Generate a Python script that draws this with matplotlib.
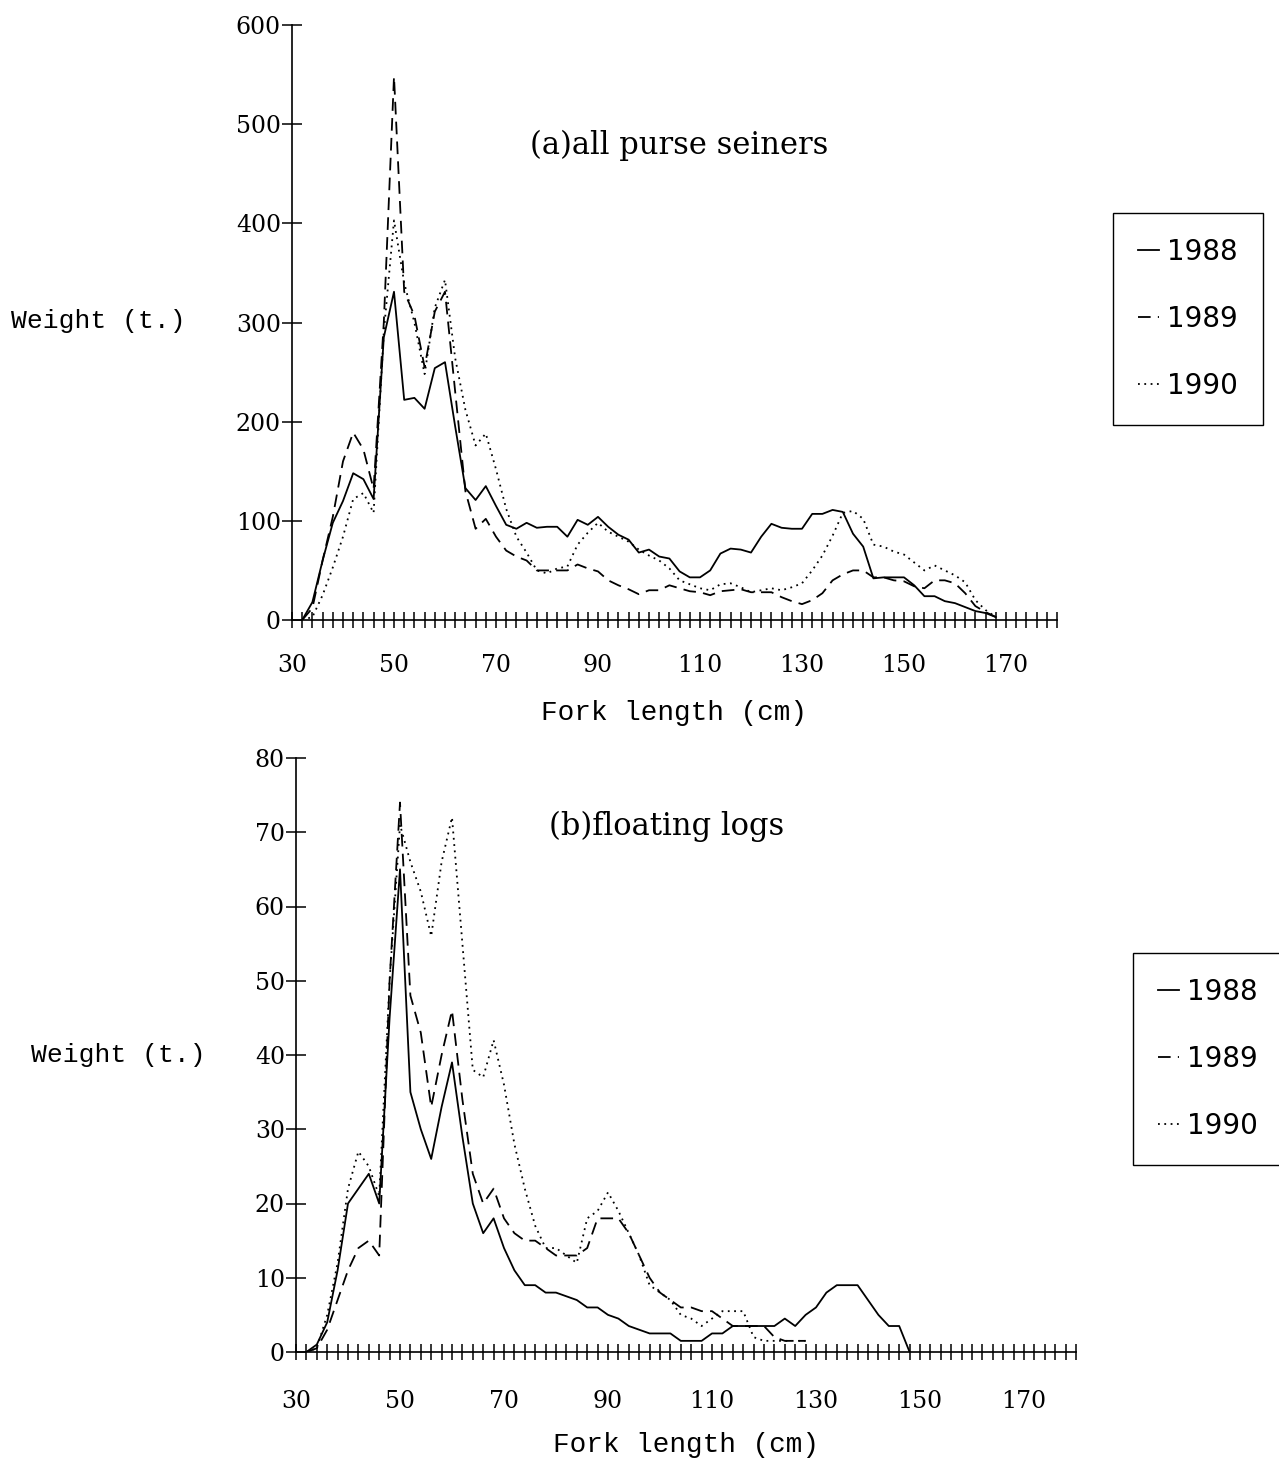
import matplotlib
matplotlib.use("Agg")
import matplotlib.pyplot as plt

W, H = 1279, 1469

# ---- (a) all purse seiners, 2 cm classes ----
len_a = list(range(32, 170, 2))
w88_a = [0, 18, 60, 98, 120, 148, 142, 122, 285, 331,
         222, 224, 213, 254, 260, 195, 133, 121, 135, 115,
         96, 92, 98, 93, 94, 94, 84, 101, 96, 104,
         94, 86, 81, 68, 71, 64, 62, 49, 43, 43,
         50, 67, 72, 71, 68, 84, 97, 93, 92, 92,
         107, 107, 111, 109, 87, 74, 42, 43, 43, 43,
         35, 24, 24, 19, 17, 13, 9, 7, 3]
w89_a = [0, 12, 60, 104, 160, 189, 172, 132, 300, 548,
         331, 307, 255, 311, 331, 230, 130, 92, 102, 84,
         70, 64, 60, 50, 50, 50, 50, 56, 52, 49,
         40, 35, 31, 26, 30, 30, 35, 32, 29, 28,
         25, 29, 30, 31, 28, 28, 28, 23, 19, 16,
         20, 27, 40, 46, 50, 50, 43, 43, 40, 39,
         34, 32, 40, 40, 37, 27, 14, 8, 3]
w90_a = [0, 3, 25, 53, 84, 122, 128, 108, 290, 403,
         340, 300, 248, 315, 343, 264, 212, 176, 188, 152,
         112, 84, 68, 50, 47, 52, 54, 76, 88, 98,
         89, 84, 79, 71, 65, 60, 52, 40, 36, 32,
         30, 36, 37, 33, 28, 30, 32, 30, 33, 37,
         50, 65, 85, 108, 110, 102, 76, 74, 69, 66,
         58, 50, 55, 50, 45, 38, 20, 10, 3]

# ---- (b) floating logs ----
len_b88 = list(range(32, 150, 2))
w88_b = [0, 1, 4, 11, 20, 22, 24, 20, 45, 65,
         35, 30, 26, 33, 39, 29, 20, 16, 18, 14,
         11, 9, 9, 8, 8, 7.5, 7, 6, 6, 5,
         4.5, 3.5, 3, 2.5, 2.5, 2.5, 1.5, 1.5, 1.5, 2.5,
         2.5, 3.5, 3.5, 3.5, 3.5, 3.5, 4.5, 3.5, 5, 6,
         8, 9, 9, 9, 7, 5, 3.5, 3.5, 0]
len_b = list(range(32, 130, 2))
w89_b = [0, 0.5, 3, 7, 11, 14, 15, 13, 50, 74,
         48, 43, 33, 40, 46, 34, 24, 20, 22, 18,
         16, 15, 15, 14, 13, 13, 13, 14, 18, 18,
         18, 16, 13, 10, 8, 7, 6, 6, 5.5, 5.5,
         4.5, 3.5, 3.5, 3.5, 3.5, 2, 1.5, 1.5, 1.5]
w90_b = [0, 0.5, 5, 12, 22, 27, 25, 21, 50, 71,
         66, 62, 56, 66, 72, 55, 38, 37, 42, 36,
         28, 22, 17, 14, 14, 13, 12, 18, 19, 21.5,
         19, 16, 13, 9, 8, 7, 5, 4.5, 3.5, 4.5,
         5.5, 5.5, 5.5, 2, 1.5, 1.5, 1.5, 1.5, 1.5]

years = ["1988", "1989", "1990"]
styles = ["-", (0, (7, 4)), (0, (1, 2.5))]

serif = "DejaVu Serif"
mono = "Liberation Mono"


def fx(px):
    return px / W


def fy(py):
    return 1 - py / H


def style_axes(ax, ymax, ystep, xpad):
    for s in ("top", "right"):
        ax.spines[s].set_visible(False)
    for s in ("left", "bottom"):
        ax.spines[s].set_linewidth(1.2)
    ax.set_xlim(30, 180)
    ax.set_ylim(0, ymax)
    ax.set_xticks(range(30, 171, 20))
    ax.set_xticks([v for v in range(32, 181, 2) if (v - 30) % 20], minor=True)
    ax.set_yticks(range(0, ymax + 1, ystep))
    ax.tick_params(axis="x", which="both", direction="inout", length=11,
                   width=1.1, pad=xpad)
    ax.tick_params(axis="y", direction="inout", length=14, width=1.1, pad=1)
    for lab in ax.get_xticklabels() + ax.get_yticklabels():
        lab.set_fontfamily(serif)
        lab.set_fontsize(17)


fig = plt.figure(figsize=(W / 100, H / 100), dpi=100)

# top panel
ax1 = fig.add_axes([fx(292), fy(620), (1057 - 292) / W, (620 - 25) / H])
lines = []
for vals, ls, yr in zip([w88_a, w89_a, w90_a], styles, years):
    ln, = ax1.plot(len_a, vals, color="black", lw=1.3, linestyle=ls, label=yr)
    lines.append(ln)
style_axes(ax1, 600, 100, 19)

# bottom panel
ax2 = fig.add_axes([fx(296), fy(1352), (1076 - 296) / W, (1352 - 758) / H])
ax2.plot(len_b88, w88_b, color="black", lw=1.3, linestyle=styles[0])
ax2.plot(len_b, w89_b, color="black", lw=1.3, linestyle=styles[1])
ax2.plot(len_b, w90_b, color="black", lw=1.3, linestyle=styles[2])
style_axes(ax2, 80, 10, 22)

# texts
fig.text(fx(98), fy(321), "Weight (t.)", family=mono, fontsize=19,
         ha="center", va="center")
fig.text(fx(118), fy(1055), "Weight (t.)", family=mono, fontsize=19,
         ha="center", va="center")
fig.text(fx(674), fy(713), "Fork length (cm)", family=mono, fontsize=20,
         ha="center", va="center")
fig.text(fx(686), fy(1445), "Fork length (cm)", family=mono, fontsize=20,
         ha="center", va="center")
fig.text(fx(679), fy(145), "(a)all purse seiners", family=serif,
         fontsize=22, ha="center", va="center")
fig.text(fx(667), fy(826), "(b)floating logs", family=serif,
         fontsize=22, ha="center", va="center")

# legends
for x0, y0 in [(1113, 213), (1133, 953)]:
    leg = fig.legend(handles=lines, labels=years, loc="upper left",
                     bbox_to_anchor=(fx(x0), fy(y0)), frameon=True,
                     fancybox=False, framealpha=1, edgecolor="black",
                     prop={"family": "DejaVu Sans", "size": 20},
                     handlelength=0.75, handletextpad=0.3, labelspacing=1.4,
                     borderpad=0.9, borderaxespad=0)
    leg.get_frame().set_linewidth(1.0)

fig.savefig("out.png", dpi=100)
plt.close(fig)
